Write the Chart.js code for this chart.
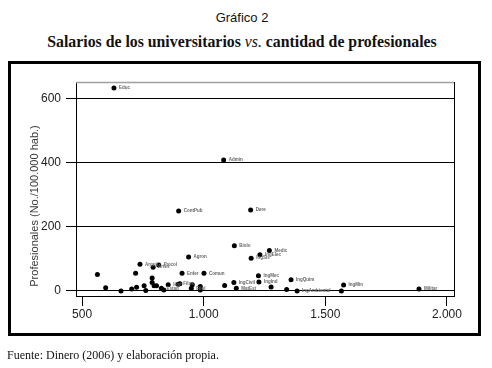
<!DOCTYPE html>
<html lang="es">
<head>
<meta charset="utf-8">
<script src="https://cdn.jsdelivr.net/npm/chart.js@4"></script>
<style>
  html, body { margin: 0; padding: 0; background: #fff; }
  body { width: 492px; height: 368px; position: relative; overflow: hidden; }
  .cap { position: absolute; left: 0; width: 484px; text-align: center; color: #111; }
  #num { top: 10px; font: 13px "Liberation Sans", Arial, sans-serif; }
  #ttl { top: 33px; font: bold 15.8px "Liberation Serif", "Times New Roman", serif; }
  #frame { position: absolute; left: 8px; top: 61px; width: 467px; height: 269px; border: 3px solid #000; }
  #src { position: absolute; left: 7px; top: 348px; font: 12px "Liberation Serif", "Times New Roman", serif; color: #111; }
  #c { position: absolute; left: 0; top: 0; }
</style>
</head>
<body>
<div id="num" class="cap">Gráfico 2</div>
<div id="ttl" class="cap">Salarios de los universitarios <i style="font-weight:normal">vs.</i> cantidad de profesionales</div>
<div id="frame"></div>
<canvas id="c" width="492" height="368"></canvas>
<div id="src">Fuente: Dinero (2006) y elaboración propia.</div>
<script>
// salario (x) vs profesionales por 100.000 hab. (y)
const salaries = [631, 1082, 897, 1193, 1126, 1270, 1231, 1195, 938, 738, 815, 792, 720, 563,
  911, 1001, 1225, 1359, 1227, 1124, 1134, 1086, 1277, 1341, 1384, 1566, 1575, 1885,
  597, 660, 704, 724, 755, 762, 788, 788, 796, 806, 826, 836, 854, 895, 902, 949, 953, 986, 986];
const professionals = [634, 409, 250, 253, 141, 126, 113, 102, 106, 83, 81, 74, 55, 51,
  55, 55, 47, 35, 28, 26, 8, 17, 12, 4, 0, 0, 18, 6,
  10, 0, 6, 11, 16, 1, 40, 26, 16, 16, 8, 3, 19, 21, 22, 8, 19, 14, 3];
const pointLabels = ['Educ', 'Admin', 'ContPub', 'Dere', 'Biolo', 'Medic', 'IngElec', 'IngSis', 'Agron', 'Arquit', 'Psicol', 'Artes', '', '',
  'Enfer', 'Comun', 'IngMec', 'IngQuim', 'IngInd', 'IngCivil', 'MatEst', '', '', '', 'IngAmbiental', '', 'IngMin', 'Militar',
  '', '', '', '', '', '', '', '', '', '', 'Estad', '', 'Hist', 'Filos', '', 'Filol', '', '', ''];

const xTickValues = [500, 1000, 1500, 2000];
const xTickLabels = ['500', '1.000', '1.500', '2.000'];
const yTickValues = [0, 200, 400, 600];
const yTickLabels = ['0', '200', '400', '600'];
const yTitle = 'Profesionales (No./100.000 hab.)';

const tickFont = { family: '"Liberation Sans", Arial, sans-serif', size: 12 };

const extras = {
  id: 'extras',
  afterDraw(chart) {
    const { ctx, chartArea: a, scales } = chart;
    ctx.save();
    // top and right edges of the plot box
    ctx.lineWidth = 1.5;
    ctx.strokeStyle = '#a0a0a0';
    ctx.beginPath(); ctx.moveTo(a.left, a.top + 0.5); ctx.lineTo(a.right, a.top + 0.5); ctx.stroke();
    ctx.strokeStyle = '#000';
    ctx.lineWidth = 1;
    ctx.beginPath(); ctx.moveTo(a.right + 0.5, a.top); ctx.lineTo(a.right + 0.5, a.bottom); ctx.stroke();
    // point labels
    ctx.fillStyle = '#666';
    ctx.font = 'bold 4.5px Arial, "Liberation Sans", sans-serif';
    ctx.textBaseline = 'middle';
    salaries.forEach((s, i) => {
      if (!pointLabels[i]) return;
      ctx.fillText(pointLabels[i], scales.x.getPixelForValue(s) + 5, scales.y.getPixelForValue(professionals[i]));
    });
    // y axis title
    ctx.translate(35, 206);
    ctx.rotate(-Math.PI / 2);
    ctx.fillStyle = '#3a3a3a';
    ctx.font = '11px "Liberation Sans", Arial, sans-serif';
    ctx.textAlign = 'center';
    ctx.fillText(yTitle, 0, 0);
    ctx.restore();
  }
};

new Chart(document.getElementById('c'), {
  type: 'scatter',
  data: {
    datasets: [{
      data: salaries.map((s, i) => ({ x: s, y: professionals[i] })),
      backgroundColor: '#000',
      borderColor: '#000',
      pointRadius: 2.5,
      pointBorderWidth: 0
    }]
  },
  options: {
    responsive: false,
    animation: false,
    devicePixelRatio: 1,
    layout: { padding: { left: 0, top: 82, right: 38, bottom: 0 } },
    plugins: { legend: { display: false }, tooltip: { enabled: false } },
    scales: {
      x: {
        type: 'linear', min: 475, max: 2029,
        afterFit: (s) => { s.height = 72; },
        afterBuildTicks: (s) => { s.ticks = xTickValues.map((v) => ({ value: v })); },
        grid: { drawOnChartArea: false, color: '#000', tickLength: 10 },
        border: { color: '#000', width: 1 },
        ticks: { font: tickFont, color: '#222', padding: 1, maxRotation: 0,
          callback: (v) => xTickLabels[xTickValues.indexOf(v)] }
      },
      y: {
        min: -16, max: 653,
        afterFit: (s) => { s.width = 76; },
        afterBuildTicks: (s) => { s.ticks = yTickValues.map((v) => ({ value: v })); },
        grid: { color: '#000', tickLength: 10 },
        border: { color: '#000', width: 1 },
        ticks: { font: tickFont, color: '#222', padding: 5,
          callback: (v) => yTickLabels[yTickValues.indexOf(v)] }
      }
    }
  },
  plugins: [extras]
});
</script>
</body>
</html>
